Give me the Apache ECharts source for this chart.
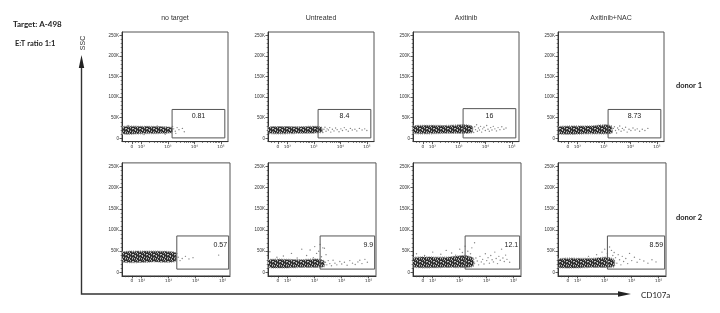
<!DOCTYPE html>
<html><head><meta charset="utf-8">
<script src="https://cdn.jsdelivr.net/npm/echarts@6/dist/echarts.min.js"></script>
<style>html,body{margin:0;padding:0;background:#fff}#c{width:720px;height:313px}</style>
</head><body><div id="c"></div>
<script>
// ---------- DATA ----------
const columns = ['no target', 'Untreated', 'Axitinib', 'Axitinib+NAC'];
const rows = ['donor 1', 'donor 2'];
const gateLabels = [['0.81', '8.4', '16', '8.73'], ['0.57', '9.9', '12.1', '8.59']];
// gate boundaries: [x0 (decade units), y0 (K), x1, y1]
const gatesRow1 = [[3.16, 1, 5.15, 70], [3.16, 1, 5.15, 70], [3.16, 1, 5.15, 72], [3.16, 1, 5.15, 70]];
const gatesRow2 = [[3.30, 8, 5.22, 86], [3.20, 8, 5.22, 86], [3.20, 8, 5.22, 86], [3.10, 8, 5.22, 86]];
// x axis (CD107a, biexponential display in decade units)
const xTickValues = [1.64, 2, 3, 4, 5];
const xTickLabels = ['0', '10²', '10³', '10⁴', '10⁵'];
// y axis (SSC, in thousands)
const yTickValues = [0, 50, 100, 150, 200, 250];
const yTickLabels = ['0', '50K', '100K', '150K', '200K', '250K'];

// dense population bands: x, lower SSC, upper SSC (K)
const bandR1C1 = {x: [1.28, 2.0, 2.8, 3.15], lo: [11, 11, 12, 14], hi: [28, 29, 28, 26]};
const bandR1C2 = {x: [1.28, 2.5, 3.1, 3.3], lo: [12, 12, 13, 15], hi: [27, 28, 29, 26]};
const bandR1C3 = {x: [1.28, 2.5, 3.2, 3.5], lo: [12, 12, 12, 14], hi: [30, 31, 33, 29]};
const bandR1C4 = {x: [1.28, 2.5, 3.1, 3.3], lo: [11, 11, 11, 13], hi: [28, 30, 33, 28]};
const bandR2C1 = {x: [1.28, 2.5, 3.25], lo: [25, 25, 26], hi: [48, 50, 47]};
const bandR2C2 = {x: [1.28, 2.5, 3.1, 3.35], lo: [12, 12, 12, 14], hi: [30, 30, 32, 27]};
const bandR2C3 = {x: [1.28, 2.5, 3.2, 3.5], lo: [13, 12, 12, 15], hi: [35, 36, 40, 34]};
const bandR2C4 = {x: [1.28, 2.5, 3.1, 3.35], lo: [12, 12, 12, 14], hi: [32, 33, 36, 30]};

// sparse events [x (decade units), SSC (K)]
const ptsR1C1 = [[3.22,23],[3.28,17],[3.35,26],[3.42,21],[3.55,24],[3.62,16],[3.3,12],[3.18,29],[1.5,31],[2.1,9],[2.6,30],[2.9,10]];
const ptsR1C2 = [[3.28,25],[3.31,19],[3.34,14],[3.38,22],[3.42,27],[3.46,17],[3.5,23],[3.55,20],[3.6,26],[3.64,15],[3.7,22],[3.76,18],[3.82,25],[3.88,21],[3.95,16],[4.02,23],[4.08,19],[4.15,26],[4.22,21],[4.3,17],[4.38,24],[4.45,20],[4.55,22],[4.62,18],[4.72,24],[4.82,20],[4.92,23],[5.0,19]];
const ptsR1C3 = [[3.45,30],[3.5,18],[3.52,25],[3.56,14],[3.6,28],[3.63,21],[3.67,33],[3.7,17],[3.74,25],[3.78,20],[3.82,29],[3.86,15],[3.9,23],[3.95,27],[4.0,19],[4.05,31],[4.1,22],[4.15,17],[4.2,26],[4.25,20],[4.3,29],[4.36,23],[4.42,18],[4.48,26],[4.55,21],[4.62,28],[4.7,22],[4.78,25]];
const ptsR1C4 = [[3.28,30],[3.32,16],[3.36,24],[3.4,28],[3.44,19],[3.48,13],[3.52,25],[3.56,21],[3.6,30],[3.65,17],[3.7,24],[3.76,20],[3.82,27],[3.88,15],[3.95,22],[4.02,19],[4.1,25],[4.18,20],[4.26,23],[4.35,17],[4.45,22],[4.55,19],[4.66,24]];
const ptsR2C1 = [[3.35,36],[3.5,33],[3.62,38],[3.75,32],[3.9,35],[4.85,41],[3.3,45],[3.42,28]];
const ptsR2C2 = [[1.34,49],[1.6,36],[1.84,39],[2.14,45],[2.35,34],[2.52,55],[2.7,40],[2.83,53],[2.95,35],[3.0,61],[3.07,45],[3.15,50],[3.25,37],[3.3,58],[3.36,57],[3.42,42],[3.2,66],
  [3.4,24],[3.45,18],[3.5,28],[3.56,21],[3.62,16],[3.68,29],[3.75,22],[3.82,18],[3.93,26],[4.0,20],[4.1,24],[4.2,17],[4.3,28],[4.4,22],[4.5,19],[4.6,25],[4.67,29],[4.75,21],[4.86,31],[4.95,24]];
const ptsR2C3 = [[1.4,44],[1.7,40],[2.0,48],[2.3,43],[2.5,52],[2.7,46],[2.85,41],[3.0,55],[3.1,47],[3.2,62],[3.3,50],[3.4,44],[3.45,58],[3.55,70],
  [3.55,22],[3.6,34],[3.65,27],[3.7,18],[3.75,38],[3.8,25],[3.85,31],[3.9,20],[3.95,44],[4.0,28],[4.05,35],[4.1,22],[4.15,40],[4.2,30],[4.25,25],[4.3,48],[4.35,33],[4.4,21],[4.45,38],[4.5,29],[4.55,55],[4.6,34],[4.65,26],[4.7,41],[4.75,31],[4.85,24]];
const ptsR2C4 = [[2.4,38],[2.7,42],[2.9,48],[3.0,55],[3.1,45],[3.18,60],[3.25,52],[3.3,40],[3.35,47],
  [3.35,28],[3.4,35],[3.45,22],[3.5,42],[3.55,30],[3.6,18],[3.65,38],[3.7,26],[3.78,33],[3.85,21],[3.92,45],[4.0,28],[4.1,36],[4.2,24],[4.3,31],[4.45,27],[4.6,22],[4.75,30],[4.9,25]];

// ---------- LAYOUT / STYLE ----------
const bands = [[bandR1C1, bandR1C2, bandR1C3, bandR1C4], [bandR2C1, bandR2C2, bandR2C3, bandR2C4]];
const pts = [[ptsR1C1, ptsR1C2, ptsR1C3, ptsR1C4], [ptsR2C1, ptsR2C2, ptsR2C3, ptsR2C4]];
const gates = [gatesRow1, gatesRow2];
const gridLefts = [122, 268, 413, 558];
const rowTops = [32, 162.9];
const rowHeights = [109.6, 113];
const rowWidths = [106, 108];
const X_MIN = 1.27, X_MAX = 5.27, Y_MIN = -8, Y_MAX = 258;

// fixed speckle texture for the dense event clouds (style only)
const speckleRows = ['#+#.##+', '##+#.##', '.###+#.', '#+.###+', '##.#+##', '+###.#+', '#.#+##.'];
const speckleColors = {'#': '#2e2e2e', '+': '#707070', '.': '#c4c4c4'};
const pc = document.createElement('canvas');
pc.width = 7; pc.height = 7;
const pctx = pc.getContext('2d');
speckleRows.forEach((row, yy) => row.split('').forEach((ch, xx) => { pctx.fillStyle = speckleColors[ch]; pctx.fillRect(xx, yy, 1, 1); }));
const speckle = {image: pc, repeat: 'repeat'};

const xMinor = [1.4, 1.5, 1.78, 1.9];
for (let d = 2; d <= 4; d++) for (let k = 2; k <= 9; k++) xMinor.push(d + Math.log10(k));
const yMinor = [];
for (let v = 10; v <= 250; v += 10) if (v % 50 !== 0) yMinor.push(v);

const grid = [], xAxis = [], yAxis = [], series = [];
const FONT = 'Liberation Sans, Arial, sans-serif';
for (let r = 0; r < 2; r++) {
  for (let c = 0; c < 4; c++) {
    const gi = r * 4 + c;
    grid.push({left: gridLefts[c], top: rowTops[r], width: rowWidths[r], height: rowHeights[r],
      show: true, borderColor: '#555', borderWidth: 1, containLabel: false, outerBoundsMode: 'none'});
    xAxis.push({type: 'value', gridIndex: gi, min: X_MIN, max: X_MAX, position: 'bottom',
      axisLine: {show: true, onZero: false, lineStyle: {color: '#333', width: 1}},
      axisTick: {show: true, customValues: xTickValues, length: 2.5, lineStyle: {color: '#333', width: 0.8}},
      axisLabel: {show: true, customValues: xTickValues, fontSize: 4.3, margin: 3, color: '#333', fontFamily: 'DejaVu Sans, sans-serif',
        formatter: v => { let b = 0; xTickValues.forEach((t, i) => { if (Math.abs(t - v) < Math.abs(xTickValues[b] - v)) b = i; }); return xTickLabels[b]; }},
      splitLine: {show: false}});
    xAxis.push({type: 'value', gridIndex: gi, min: X_MIN, max: X_MAX, position: 'bottom',
      axisLine: {show: false, onZero: false},
      axisTick: {show: true, customValues: xMinor, length: 1.3, lineStyle: {color: '#444', width: 0.7}},
      axisLabel: {show: false}, splitLine: {show: false}});
    yAxis.push({type: 'value', gridIndex: gi, min: Y_MIN, max: Y_MAX, position: 'left',
      axisLine: {show: true, onZero: false, lineStyle: {color: '#333', width: 1}},
      axisTick: {show: true, customValues: yTickValues, length: 2.5, lineStyle: {color: '#333', width: 0.8}},
      axisLabel: {show: true, customValues: yTickValues, fontSize: 4.5, margin: 3, color: '#333', fontFamily: FONT,
        formatter: v => yTickLabels[yTickValues.indexOf(Math.round(v))] || ''},
      splitLine: {show: false}});
    yAxis.push({type: 'value', gridIndex: gi, min: Y_MIN, max: Y_MAX, position: 'left',
      axisLine: {show: false, onZero: false},
      axisTick: {show: true, customValues: yMinor, length: 1.3, lineStyle: {color: '#444', width: 0.7}},
      axisLabel: {show: false}, splitLine: {show: false}});

    const band = bands[r][c];
    series.push({type: 'custom', xAxisIndex: gi * 2, yAxisIndex: gi * 2, silent: true, clip: true,
      data: [[band.x[0], band.lo[0]]],
      renderItem: (params, api) => {
        const p = [];
        for (let i = 0; i < band.x.length; i++) p.push(api.coord([band.x[i], band.hi[i]]));
        for (let i = band.x.length - 1; i >= 0; i--) p.push(api.coord([band.x[i], band.lo[i]]));
        return {type: 'polygon', shape: {points: p, smooth: 0.2},
          style: {fill: speckle, stroke: '#8c8c8c', lineWidth: 1.3, lineDash: [1, 1.2]}};
      }});
    series.push({type: 'scatter', xAxisIndex: gi * 2, yAxisIndex: gi * 2, silent: true,
      data: pts[r][c], symbolSize: 1.4, itemStyle: {color: '#666'}});
    const g = gates[r][c];
    const lab = gateLabels[r][c];
    series.push({type: 'custom', xAxisIndex: gi * 2, yAxisIndex: gi * 2, silent: true, clip: false,
      data: [g],
      renderItem: (params, api) => {
        const a = api.coord([api.value(0), api.value(3)]);
        const b = api.coord([api.value(2), api.value(1)]);
        const txt = r === 0
          ? {type: 'text', x: (a[0] + b[0]) / 2, y: a[1] + 7, style: {text: lab, fontSize: 7, fill: '#222', fontFamily: FONT, align: 'center', verticalAlign: 'middle'}}
          : {type: 'text', x: b[0] - 1.5, y: a[1] + 9, style: {text: lab, fontSize: 7, fill: '#222', fontFamily: FONT, align: 'right', verticalAlign: 'middle'}};
        return {type: 'group', children: [
          {type: 'rect', shape: {x: a[0], y: a[1], width: b[0] - a[0], height: b[1] - a[1]},
            style: {fill: 'none', stroke: '#555', lineWidth: 1}},
          txt]};
      }});
  }
}

const graphic = [];
const BOLD = 'Lato, Carlito, sans-serif';
graphic.push({type: 'text', x: 13, y: 24, style: {text: 'Target: A-498', fontSize: 8, fontWeight: 'bold', fill: '#222', fontFamily: BOLD, verticalAlign: 'middle'}});
graphic.push({type: 'text', x: 15, y: 43.5, style: {text: 'E:T ratio 1:1', fontSize: 7.5, fontWeight: 'bold', fill: '#222', fontFamily: BOLD, verticalAlign: 'middle'}});
columns.forEach((t, c) => graphic.push({type: 'text', x: gridLefts[c] + rowWidths[0] / 2, y: 18,
  style: {text: t, fontSize: 7, fill: '#333', fontFamily: FONT, align: 'center', verticalAlign: 'middle'}}));
graphic.push({type: 'text', x: 676, y: 86, style: {text: rows[0], fontSize: 7.5, fontWeight: 'bold', fill: '#222', fontFamily: BOLD, verticalAlign: 'middle'}});
graphic.push({type: 'text', x: 676, y: 217.5, style: {text: rows[1], fontSize: 7.5, fontWeight: 'bold', fill: '#222', fontFamily: BOLD, verticalAlign: 'middle'}});
graphic.push({type: 'text', x: 83.5, y: 43, rotation: Math.PI / 2, style: {text: 'SSC', fontSize: 7, fill: '#333', fontFamily: FONT, align: 'center', verticalAlign: 'middle'}});
graphic.push({type: 'polyline', shape: {points: [[81.5, 64], [81.5, 294], [622, 294]]}, style: {stroke: '#333', lineWidth: 1.4, fill: 'none'}});
graphic.push({type: 'polygon', shape: {points: [[81.5, 55], [78.8, 68], [84.2, 68]]}, style: {fill: '#222'}});
graphic.push({type: 'polygon', shape: {points: [[631, 294], [618, 291.3], [618, 296.7]]}, style: {fill: '#222'}});
graphic.push({type: 'text', x: 641, y: 295, style: {text: 'CD107a', fontSize: 8, fill: '#222', fontFamily: BOLD, verticalAlign: 'middle'}});

const chart = echarts.init(document.getElementById('c'), null, {renderer: 'canvas'});
chart.setOption({animation: false, backgroundColor: '#fff', grid, xAxis, yAxis, series, graphic});
</script></body></html>
